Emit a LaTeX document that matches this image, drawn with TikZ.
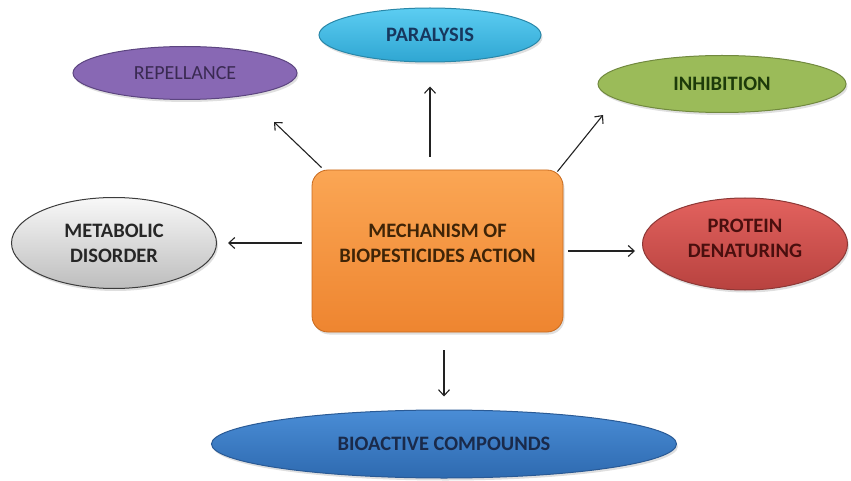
\documentclass[tikz,border=0pt]{standalone}
\usepackage{fontspec}
\setmainfont{Carlito}
\usepackage{xcolor}
\usepackage{tikz}
\usetikzlibrary{positioning, arrows.meta, shapes.geometric, shadows}
\definecolor{mechtop}{HTML}{FBA654}
\definecolor{mechbot}{HTML}{EE8530}
\definecolor{mechline}{HTML}{C86A1E}
\definecolor{mechtext}{HTML}{3F2407}
\definecolor{repfill}{HTML}{8868B4}
\definecolor{repline}{HTML}{5C4580}
\definecolor{reptext}{HTML}{3A2A52}
\definecolor{partop}{HTML}{5CCDF2}
\definecolor{parbot}{HTML}{2FA6D2}
\definecolor{parline}{HTML}{2A87A8}
\definecolor{partext}{HTML}{17375E}
\definecolor{inhfill}{HTML}{9BBB59}
\definecolor{inhline}{HTML}{71893F}
\definecolor{inhtext}{HTML}{1D3B0A}
\definecolor{mettop}{HTML}{F8F8F8}
\definecolor{metbot}{HTML}{BDBDBD}
\definecolor{metline}{HTML}{3C3C3C}
\definecolor{protop}{HTML}{E2625E}
\definecolor{probot}{HTML}{B8423F}
\definecolor{proline}{HTML}{8C3836}
\definecolor{protext}{HTML}{4A0F0E}
\definecolor{biotop}{HTML}{4A8DD6}
\definecolor{biobot}{HTML}{2E6AB0}
\definecolor{bioline}{HTML}{2A5A95}
\definecolor{biotext}{HTML}{1A2A4A}
\definecolor{arrowgray}{HTML}{222222}

\begin{document}
\begin{tikzpicture}[x=1pt, y=-1pt,
    blob/.style={ellipse, line width=1pt, inner sep=0pt, align=center,
      font=\bfseries\fontsize{20.5}{25}\selectfont,
      drop shadow={opacity=0.25, shadow xshift=1.5pt, shadow yshift=-2.5pt}},
    act/.style={-{Straight Barb[length=6pt, width=11pt]}, line width=1.1pt,
      draw=arrowgray}]
  \useasboundingbox (0,0) rectangle (851,481);

  % centre box
  \node[rectangle, rounded corners=16pt, minimum width=251pt, minimum height=162pt,
        top color=mechtop, bottom color=mechbot, draw=mechline, line width=0.8pt,
        drop shadow={opacity=0.25, shadow xshift=1.5pt, shadow yshift=-2.5pt}]
        (mech) at (437.5,251) {};
  \node[align=center, text=mechtext, font=\bfseries\fontsize{20.5}{25}\selectfont]
        (mechlabel) at ([yshift=8pt]mech.center) {MECHANISM OF\\BIOPESTICIDES ACTION};

  % effects
  \node[blob, minimum width=224pt, minimum height=53pt, fill=repfill, draw=repline,
        text=reptext, font=\fontsize{20}{25}\selectfont] (rep) at (185,73) {REPELLANCE};
  \node[blob, minimum width=222pt, minimum height=54pt, top color=partop,
        bottom color=parbot, draw=parline, text=partext] (par) at (430,35) {PARALYSIS};
  \node[blob, minimum width=248pt, minimum height=57pt, fill=inhfill, draw=inhline,
        text=inhtext] (inh) at (722,84) {INHIBITION};
  \node[blob, minimum width=205pt, minimum height=91pt, top color=mettop,
        bottom color=metbot, draw=metline, text=black!85] (met) at (114,243)
        {METABOLIC\\DISORDER};
  \node[blob, minimum width=205pt, minimum height=92pt, top color=protop,
        bottom color=probot, draw=proline] (pro) at (745,244) {};
  \node[align=center, text=protext, font=\bfseries\fontsize{20.5}{25}\selectfont]
        (prolabel) at ([yshift=6pt]pro.center) {PROTEIN\\DENATURING};
  \node[blob, minimum width=465pt, minimum height=68pt, top color=biotop,
        bottom color=biobot, draw=bioline, text=biotext] (bio) at (444,444)
        {BIOACTIVE COMPOUNDS};

  % arrows
  \draw[act] ([xshift=10pt, yshift=2pt]mech.north west)
    -- ([xshift=89pt, yshift=-49pt]rep.center);
  \draw[act, shorten <=13pt, shorten >=24pt] (mech.north -| par) -- (par.south);
  \draw[act] ([xshift=-6pt, yshift=-2pt]mech.north east)
    -- ([xshift=-119pt, yshift=-31pt]inh.center);
  \draw[act, shorten <=10pt, shorten >=11pt] (mech.west |- met) -- (met.east);
  \draw[act, shorten <=5pt, shorten >=7pt] (mech.east) -- (mech.east -| pro.west);
  \draw[act, shorten <=18pt, shorten >=13pt] (mech.south -| bio) -- (bio.north);
\end{tikzpicture}
\end{document}
